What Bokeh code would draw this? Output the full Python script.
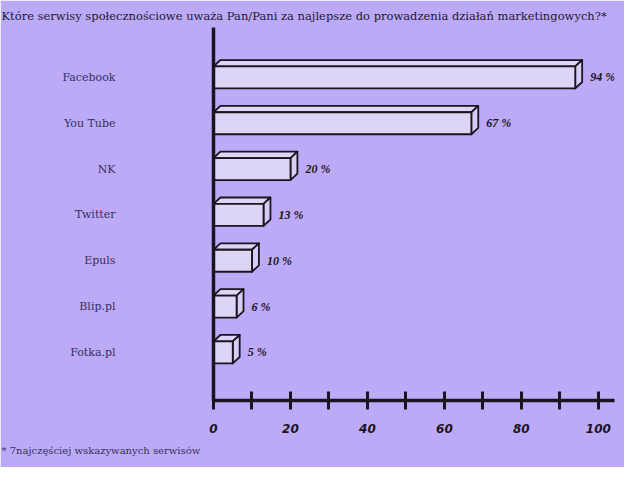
from bokeh.plotting import figure
from bokeh.models import ColumnDataSource, LabelSet, FixedTicker, Title
from bokeh.embed import file_html
from bokeh.resources import INLINE

# ---- data ----
categories = ["Facebook", "You Tube", "NK", "Twitter", "Epuls", "Blip.pl", "Fotka.pl"]
values = [94, 67, 20, 13, 10, 6, 5]
value_labels = ["94 %", "67 %", "20 %", "13 %", "10 %", "6 %", "5 %"]
x_ticks = [0, 10, 20, 30, 40, 50, 60, 70, 80, 90, 100]
x_tick_labels = {0: "0", 10: "", 20: "20", 30: "", 40: "40", 50: "", 60: "60", 70: "", 80: "80", 90: "", 100: "100"}
title_text = "Które serwisy społecznościowe uważa Pan/Pani za najlepsze do prowadzenia działań marketingowych?*"
footnote = "* 7najczęściej wskazywanych serwisów"

# ---- style ----
BG = "#bcaaf9"
BAR = "#ddd5f6"
SIDE = "#d6cdf4"
INK = "#1a1420"
LBL = "#35305c"
W, H = 624, 467
BAR_H = 0.48   # front face height (category units)
DX = 1.8       # 3D depth in x (value units)
DY = 0.14      # 3D depth in y (category units)

n = len(categories)
ypos = [n - 1 - i for i in range(n)]

front = ColumnDataSource(dict(
    left=[0] * n, right=values,
    bottom=[y - BAR_H / 2 for y in ypos], top=[y + BAR_H / 2 for y in ypos],
))
top_xs = [[0, v, v + DX, DX] for v in values]
top_ys = [[y + BAR_H / 2, y + BAR_H / 2, y + BAR_H / 2 + DY, y + BAR_H / 2 + DY] for y in ypos]
side_xs = [[v, v, v + DX, v + DX] for v in values]
side_ys = [[y - BAR_H / 2, y + BAR_H / 2, y + BAR_H / 2 + DY, y - BAR_H / 2 + DY] for y in ypos]

p = figure(width=W, height=H, x_range=(0, 104.2), y_range=(-1.05, 7.09),
           output_backend="svg", toolbar_location=None,
           min_border_left=213, min_border_right=10, min_border_top=27, min_border_bottom=67,
           background_fill_color=BG, border_fill_color=BG,
           outline_line_color=BG, outline_line_width=1)
p.grid.visible = False

p.patches(top_xs, top_ys, fill_color=BAR, line_color=INK, line_width=1.8, line_join="round")
p.patches(side_xs, side_ys, fill_color=SIDE, line_color=INK, line_width=1.8, line_join="round")
p.quad(left="left", right="right", bottom="bottom", top="top", source=front,
       fill_color=BAR, line_color=INK, line_width=1.8, line_join="round")

# value labels
vsrc = ColumnDataSource(dict(x=[v + DX for v in values], y=ypos, t=value_labels))
p.add_layout(LabelSet(x="x", y="y", text="t", source=vsrc, x_offset=8,
                      text_baseline="middle", text_align="left",
                      text_font="DejaVu Sans", text_font_style="bold italic",
                      text_font_size="12px", text_color=INK))

# y axis: category labels
p.yaxis.ticker = FixedTicker(ticks=ypos)
p.yaxis.major_label_overrides = {y: c for y, c in zip(ypos, categories)}
p.yaxis.major_label_standoff = 92
p.yaxis.major_label_text_font = "DejaVu Serif"
p.yaxis.major_label_text_font_size = "11px"
p.yaxis.major_label_text_color = LBL
p.yaxis.major_tick_line_color = None
p.yaxis.minor_tick_line_color = None
p.yaxis.axis_line_width = 3.5
p.yaxis.axis_line_color = INK

# x axis
p.xaxis.ticker = FixedTicker(ticks=x_ticks)
p.xaxis.major_label_overrides = x_tick_labels
p.xaxis.major_tick_in = 9
p.xaxis.major_tick_out = 9
p.xaxis.major_tick_line_width = 3
p.xaxis.major_tick_line_color = INK
p.xaxis.minor_tick_line_color = None
p.xaxis.axis_line_width = 3.5
p.xaxis.axis_line_color = INK
p.xaxis.major_label_standoff = 14
p.xaxis.major_label_text_font = "DejaVu Sans"
p.xaxis.major_label_text_font_style = "bold italic"
p.xaxis.major_label_text_font_size = "12px"
p.xaxis.major_label_text_color = INK

p.add_layout(Title(text=title_text, align="left", offset=-212, standoff=9,
                   text_font="DejaVu Serif", text_font_size="11.5px",
                   text_font_style="normal", text_color="#1e1830"), "above")
p.add_layout(Title(text=footnote, align="left", offset=-212, standoff=14,
                   text_font="DejaVu Serif", text_font_size="10px",
                   text_font_style="normal", text_color=LBL), "below")

open("out.html", "w").write(file_html(p, INLINE))
